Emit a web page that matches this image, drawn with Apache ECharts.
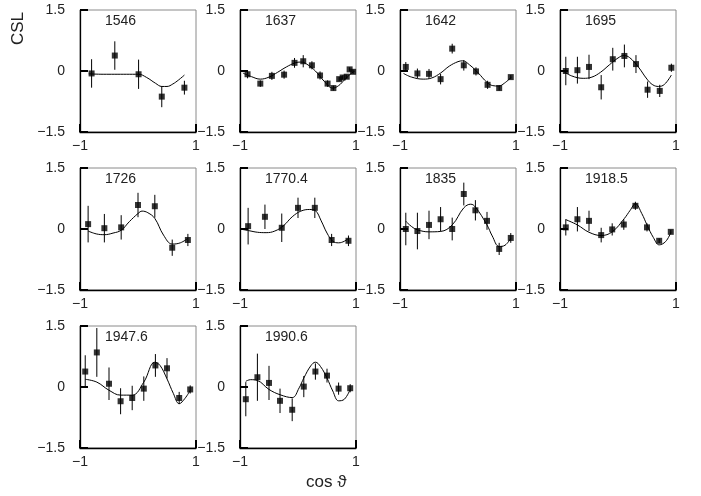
<!DOCTYPE html>
<html><head><meta charset="utf-8">
<script src="https://cdn.jsdelivr.net/npm/echarts@6/dist/echarts.min.js"></script>
<style>html,body{margin:0;padding:0;background:#fff}#c{width:701px;height:496px}</style>
</head><body><div id="c"></div>
<script>
// Panel energies (labels)
const energies = ['1546','1637','1642','1695','1726','1770.4','1835','1918.5','1947.6','1990.6'];
const xTicks = [-1, 1];
const yTicks = [-1.5, 0, 1.5];

// Data points: [cos theta, CSL, error]
const pts1546 = [[-0.80,-0.06,0.35],[-0.40,0.38,0.35],[0.01,-0.08,0.36],[0.41,-0.63,0.26],[0.80,-0.41,0.17]];
const pts1637 = [[-0.87,-0.08,0.10],[-0.65,-0.31,0.08],[-0.45,-0.12,0.10],[-0.24,-0.09,0.10],[-0.06,0.20,0.12],[0.09,0.24,0.15],[0.24,0.14,0.10],[0.38,-0.11,0.10],[0.51,-0.31,0.08],[0.61,-0.42,0.06],[0.71,-0.20,0.05],[0.77,-0.16,0.05],[0.84,-0.14,0.05],[0.89,0.04,0.05],[0.95,-0.02,0.05]];
const pts1642 = [[-0.90,0.10,0.12],[-0.70,-0.06,0.12],[-0.50,-0.07,0.12],[-0.30,-0.20,0.13],[-0.10,0.55,0.12],[0.10,0.14,0.13],[0.31,-0.01,0.10],[0.51,-0.34,0.10],[0.71,-0.42,0.06],[0.91,-0.15,0.05]];
const pts1695 = [[-0.90,0.00,0.35],[-0.70,0.02,0.33],[-0.50,0.10,0.30],[-0.29,-0.40,0.30],[-0.09,0.29,0.28],[0.11,0.37,0.28],[0.31,0.17,0.22],[0.51,-0.46,0.20],[0.72,-0.49,0.15],[0.92,0.08,0.10]];
const pts1726 = [[-0.86,0.12,0.45],[-0.58,0.02,0.35],[-0.29,0.04,0.30],[0.00,0.59,0.30],[0.29,0.56,0.28],[0.59,-0.46,0.20],[0.86,-0.27,0.15]];
const pts1770 = [[-0.86,0.07,0.45],[-0.57,0.30,0.30],[-0.28,0.03,0.35],[0.00,0.52,0.25],[0.29,0.52,0.25],[0.58,-0.27,0.15],[0.87,-0.29,0.13]];
const pts1835 = [[-0.90,0.00,0.40],[-0.70,-0.05,0.45],[-0.50,0.10,0.35],[-0.30,0.24,0.30],[-0.10,0.00,0.28],[0.10,0.86,0.28],[0.30,0.46,0.25],[0.50,0.20,0.22],[0.71,-0.49,0.15],[0.91,-0.22,0.12]];
const pts1918 = [[-0.90,0.04,0.20],[-0.70,0.24,0.30],[-0.50,0.20,0.25],[-0.29,-0.15,0.18],[-0.10,-0.01,0.15],[0.10,0.11,0.13],[0.30,0.57,0.10],[0.50,0.04,0.10],[0.71,-0.29,0.06],[0.91,-0.07,0.05]];
const pts1947 = [[-0.91,0.38,0.40],[-0.71,0.85,0.60],[-0.50,0.08,0.40],[-0.30,-0.35,0.32],[-0.10,-0.27,0.30],[0.10,-0.04,0.30],[0.30,0.53,0.28],[0.50,0.46,0.25],[0.71,-0.27,0.15],[0.90,-0.06,0.10]];
const pts1990 = [[-0.90,-0.30,0.42],[-0.70,0.24,0.58],[-0.50,0.10,0.42],[-0.31,-0.34,0.30],[-0.10,-0.56,0.28],[0.10,0.01,0.26],[0.30,0.38,0.20],[0.50,0.28,0.17],[0.70,-0.04,0.15],[0.90,-0.03,0.10]];

// Fit curves: [cos theta, CSL]
const fit1546 = [[-0.85,-0.07],[-0.6,-0.08],[-0.4,-0.08],[-0.2,-0.08],[0.01,-0.08],[0.15,-0.16],[0.3,-0.3],[0.41,-0.38],[0.5,-0.38],[0.6,-0.32],[0.7,-0.22],[0.8,-0.1]];
const fit1637 = [[-0.95,-0.05],[-0.8,-0.14],[-0.65,-0.2],[-0.5,-0.15],[-0.35,-0.03],[-0.2,0.1],[-0.05,0.2],[0.05,0.22],[0.15,0.17],[0.3,0.0],[0.45,-0.25],[0.6,-0.42],[0.7,-0.36],[0.8,-0.22],[0.9,-0.08],[0.98,0.0]];
const fit1642 = [[-0.94,-0.06],[-0.8,-0.15],[-0.6,-0.2],[-0.45,-0.17],[-0.3,-0.05],[-0.15,0.12],[0,0.23],[0.08,0.25],[0.2,0.15],[0.35,-0.05],[0.5,-0.28],[0.6,-0.36],[0.7,-0.37],[0.8,-0.3],[0.92,-0.15]];
const fit1695 = [[-0.95,0.0],[-0.8,-0.12],[-0.6,-0.18],[-0.45,-0.15],[-0.3,-0.03],[-0.15,0.15],[0,0.32],[0.1,0.38],[0.2,0.33],[0.35,0.1],[0.5,-0.2],[0.6,-0.34],[0.7,-0.38],[0.8,-0.33],[0.92,-0.1]];
const fit1726 = [[-0.86,-0.05],[-0.72,-0.12],[-0.58,-0.14],[-0.43,-0.1],[-0.29,-0.03],[-0.15,0.18],[0,0.38],[0.07,0.44],[0.17,0.4],[0.29,0.26],[0.44,-0.15],[0.59,-0.37],[0.73,-0.34],[0.86,-0.23]];
const fit1770 = [[-1,0],[-0.85,-0.04],[-0.7,-0.08],[-0.55,-0.09],[-0.4,-0.05],[-0.25,0.08],[-0.1,0.3],[0.05,0.44],[0.2,0.48],[0.3,0.45],[0.4,0.2],[0.5,-0.1],[0.6,-0.3],[0.7,-0.34],[0.8,-0.3],[0.88,-0.22]];
const fit1835 = [[-0.9,0.19],[-0.8,0.06],[-0.7,-0.02],[-0.5,-0.07],[-0.3,-0.06],[-0.1,0.1],[0.1,0.52],[0.22,0.61],[0.3,0.54],[0.5,0.1],[0.59,-0.17],[0.71,-0.43],[0.81,-0.4],[0.91,-0.23]];
const fit1918 = [[-0.9,0.23],[-0.7,0.1],[-0.5,-0.08],[-0.29,-0.16],[-0.1,-0.07],[0.11,0.26],[0.21,0.46],[0.3,0.62],[0.41,0.38],[0.5,0.1],[0.61,-0.21],[0.71,-0.39],[0.82,-0.31],[0.91,-0.09]];
const fit1947 = [[-0.91,0.19],[-0.71,0.12],[-0.5,-0.08],[-0.3,-0.2],[-0.1,-0.2],[0.1,0.12],[0.29,0.61],[0.38,0.53],[0.5,0.2],[0.61,-0.16],[0.71,-0.41],[0.81,-0.28],[0.9,-0.08]];
const fit1990 = [[-0.9,0.14],[-0.82,0.18],[-0.7,0.16],[-0.5,-0.06],[-0.31,-0.19],[-0.1,-0.26],[0.02,-0.02],[0.1,0.22],[0.22,0.52],[0.3,0.61],[0.39,0.5],[0.5,0.22],[0.6,-0.1],[0.7,-0.34],[0.8,-0.3],[0.9,-0.06]];

const allPts = [pts1546,pts1637,pts1642,pts1695,pts1726,pts1770,pts1835,pts1918,pts1947,pts1990];
const allFits = [fit1546,fit1637,fit1642,fit1695,fit1726,fit1770,fit1835,fit1918,fit1947,fit1990];

const FONT = 'Liberation Sans, Arial, sans-serif';
const minus = s => String(s).replace('-', '\u2212');

const grids = [], xAxes = [], yAxes = [], series = [], titles = [];
energies.forEach((e, i) => {
  const col = i % 4, row = Math.floor(i / 4);
  const left = 80 + col * 160, top = 10 + row * 158;
  grids.push({left: left, top: top, width: 116, height: 122, show: true,
    borderColor: '#8a8a8a', borderWidth: 1, backgroundColor: 'transparent'});
  xAxes.push({gridIndex: i, type: 'value', min: -1, max: 1, interval: 2,
    axisLine: {show: true, onZero: false, lineStyle: {color: '#000', width: 1.3}},
    axisTick: {show: true, inside: true, length: 8, lineStyle: {color: '#000', width: 2}},
    splitLine: {show: false},
    axisLabel: {show: true, margin: 7, color: '#222', fontFamily: FONT, fontSize: 14,
      formatter: v => xTicks.includes(v) ? minus(v) : ''}});
  yAxes.push({gridIndex: i, type: 'value', min: -1.5, max: 1.5, interval: 1.5,
    axisLine: {show: true, onZero: false, lineStyle: {color: '#000', width: 1.3}},
    axisTick: {show: true, inside: true, length: 8, lineStyle: {color: '#000', width: 2}},
    splitLine: {show: false},
    axisLabel: {show: true, margin: 15, color: '#222', fontFamily: FONT, fontSize: 14,
      formatter: v => yTicks.includes(v) ? minus(v) : ''}});
  titles.push({text: e, left: left + 20, top: top - 1,
    textStyle: {fontFamily: FONT, fontSize: 14, fontWeight: 'normal', color: '#222'}});
  series.push({type: 'line', xAxisIndex: i, yAxisIndex: i, data: allFits[i], smooth: 0.4,
    showSymbol: false, lineStyle: {color: '#000', width: 1}, silent: true, z: 2});
  series.push({type: 'custom', xAxisIndex: i, yAxisIndex: i, data: allPts[i],
    encode: {x: 0, y: 1}, z: 3, silent: true,
    renderItem: (params, api) => {
      const x = api.value(0), y = api.value(1), er = api.value(2);
      const p1 = api.coord([x, y - er]), p2 = api.coord([x, y + er]);
      return {type: 'line', shape: {x1: p1[0], y1: p1[1], x2: p2[0], y2: p2[1]},
        style: {stroke: '#000', lineWidth: 1}};
    }});
  series.push({type: 'scatter', xAxisIndex: i, yAxisIndex: i, data: allPts[i].map(p => [p[0], p[1]]),
    symbol: 'rect', symbolSize: 6, itemStyle: {color: '#000'}, silent: true, z: 4});
});

const chart = echarts.init(document.getElementById('c'), null, {renderer: 'canvas'});
chart.setOption({
  animation: false,
  backgroundColor: '#fff',
  title: titles,
  grid: grids, xAxis: xAxes, yAxis: yAxes, series: series,
  graphic: [
    {type: 'text', left: 10, top: 12, rotation: Math.PI / 2,
      style: {text: 'CSL', fontFamily: FONT, fontSize: 17, fill: '#222'}},
    {type: 'text', left: 306, top: 474,
      style: {text: 'cos \u03D1', fontFamily: FONT, fontSize: 17, fill: '#222'}}
  ]
});
</script></body></html>
